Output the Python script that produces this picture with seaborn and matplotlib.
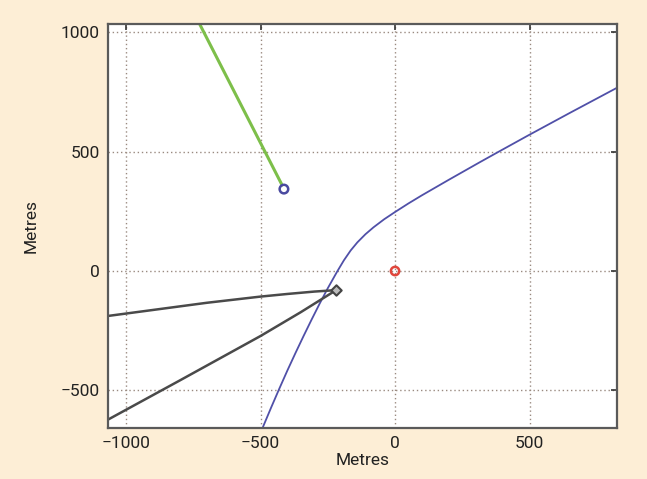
import seaborn as sns
import matplotlib.pyplot as plt

# curve data (metres)
blue_x = [-491, -460, -430, -400, -370, -340, -310, -280, -250, -215, -190, -165, -140, -110,
          -80, -40, 0, 50, 100, 200, 316, 383, 494, 650, 825]
blue_y = [-653, -570, -492, -416, -343, -272, -203, -136, -72, -2, 45, 86, 120, 154,
          183, 217, 247, 283, 317, 382, 456, 498, 567, 662, 767]

green_x = [-745, -420]
green_y = [1075, 360]

black_up_x = [-1080, -900, -700, -500, -400, -300, -219]
black_up_y = [-190, -163, -133, -107, -96, -86, -80]

black_lo_x = [-1080, -800, -500, -350, -219]
black_lo_y = [-630, -458, -272, -172, -80]

# end-point markers
blue_pt = (-413, 343)
red_pt = (0, 0)
black_pt = (-219, -80)

xticks = [-1000, -500, 0, 500]
yticks = [-500, 0, 500, 1000]

sns.set_style("white")
plt.rcParams['font.family'] = ['Roboto', 'DejaVu Sans']

fig = plt.figure(figsize=(6.47, 4.79), dpi=100, facecolor='#fdeed6')
ax = fig.add_axes([0.1669, 0.1065, 0.7867, 0.8434])
ax.set_facecolor('white')

sns.lineplot(x=blue_x, y=blue_y, sort=False, color='#5050a8', linewidth=1.3, ax=ax)
sns.lineplot(x=green_x, y=green_y, sort=False, color='#7dbf4a', linewidth=2.2, ax=ax)
sns.lineplot(x=black_up_x, y=black_up_y, sort=False, color='#4a4a4a', linewidth=1.8, ax=ax)
sns.lineplot(x=black_lo_x, y=black_lo_y, sort=False, color='#4a4a4a', linewidth=1.8, ax=ax)

sns.scatterplot(x=[blue_pt[0]], y=[blue_pt[1]], marker='o', s=38, facecolor='none',
                edgecolor='#4a4aa0', linewidth=1.8, ax=ax, zorder=5)
sns.scatterplot(x=[red_pt[0]], y=[red_pt[1]], marker='o', s=36, facecolor='none',
                edgecolor='#e0463c', linewidth=1.8, ax=ax, zorder=5)
sns.scatterplot(x=[black_pt[0]], y=[black_pt[1]], marker='D', s=28, facecolor='#bbbbbb',
                edgecolor='#444444', linewidth=1.5, ax=ax, zorder=5)

ax.set_xlim(-1067, 825)
ax.set_ylim(-657, 1034)
ax.set_xticks(xticks)
ax.set_yticks(yticks)

ax.grid(True, linestyle=(0, (1, 2)), color='#9a8a80', linewidth=1.0)
ax.tick_params(direction='in', length=4, width=1.2, color='#333333',
               top=True, right=True, labelsize=12.5, labelcolor='#222222', pad=6)
for sp in ax.spines.values():
    sp.set_color('#5a5a5a')
    sp.set_linewidth(1.6)

ax.set_xlabel('Metres', fontsize=12.5, color='#222222', labelpad=1)
ax.set_ylabel('Metres', fontsize=12.5, color='#222222', labelpad=16)

fig.savefig('out.png', dpi=100, facecolor=fig.get_facecolor())
